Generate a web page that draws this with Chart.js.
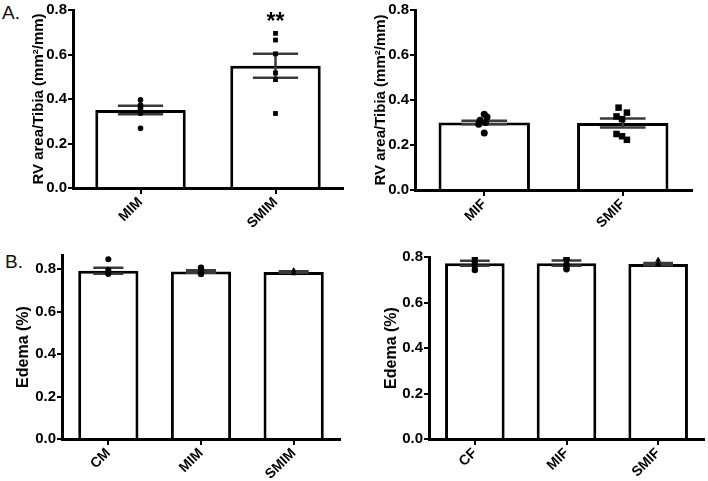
<!DOCTYPE html>
<html><head><meta charset="utf-8">
<script src="https://cdn.jsdelivr.net/npm/chart.js@4"></script>
<style>
html,body{margin:0;padding:0;background:#fff;width:708px;height:481px;overflow:hidden}
canvas{position:absolute}
.lbl{position:absolute;font-family:"Liberation Sans",Arial,sans-serif;font-size:19px;color:#111;line-height:19px}
</style></head><body>
<div class="lbl" style="left:2px;top:3px">A.</div>
<div class="lbl" style="left:5px;top:252px">B.</div>
<canvas id="c1" width="354" height="240" style="left:0;top:0"></canvas>
<canvas id="c2" width="354" height="240" style="left:354px;top:0"></canvas>
<canvas id="c3" width="354" height="241" style="left:0;top:240px"></canvas>
<canvas id="c4" width="354" height="241" style="left:354px;top:240px"></canvas>
<script>
// ---- Panel A (left): RV area / Tibia, male ----
const catsA1 = ['MIM', 'SMIM'];
const meanA1 = [0.351, 0.549];
const semA1  = [0.019, 0.054];
const ptsA1  = [[0.396, 0.373, 0.362, 0.352, 0.336, 0.268],
                [0.695, 0.665, 0.603, 0.517, 0.487, 0.335]];
const jitA1  = [[0, 0, 0, 0, 0, 0], [0, 0, 0, 0, 0, 0]];
const sigA1  = ['', '**'];

// ---- Panel A (right): RV area / Tibia, female ----
const catsA2 = ['MIF', 'SMIF'];
const meanA2 = [0.300, 0.298];
const semA2  = [0.008, 0.020];
const ptsA2  = [[0.337, 0.325, 0.310, 0.300, 0.292, 0.253],
                [0.366, 0.344, 0.327, 0.315, 0.249, 0.239, 0.223]];
const jitA2  = [[0, 0.02, -0.03, 0.01, -0.04, 0],
                [-0.03, 0.03, -0.045, -0.005, -0.045, -0.005, 0.03]];

// ---- Panel B (left): Edema, male ----
const catsB1 = ['CM', 'MIM', 'SMIM'];
const meanB1 = [0.792, 0.788, 0.786];
const semB1  = [0.014, 0.006, 0.003];
const ptsB1  = [[0.846, 0.795, 0.787, 0.776],
                [0.806, 0.795, 0.784, 0.777],
                [0.795, 0.783, 0.778]];

// ---- Panel B (right): Edema, female ----
const catsB2 = ['CF', 'MIF', 'SMIF'];
const meanB2 = [0.773, 0.773, 0.769];
const semB2  = [0.011, 0.012, 0.005];
const ptsB2  = [[0.797, 0.779, 0.762, 0.743],
                [0.806, 0.790, 0.765, 0.747],
                [0.787, 0.772, 0.765]];

const yTicksA = [0, 0.2, 0.4, 0.6, 0.8];
const yTicksB = [0, 0.2, 0.4, 0.6, 0.8];

const FONT = 'Arial, "Liberation Sans", Helvetica, sans-serif';

function makeChart(id, o) {
  const n = o.cats.length;
  const errPlugin = {
    id: 'errbars',
    afterDatasetDraw(chart, args) {
      if (args.index !== 0) return;
      const ctx = chart.ctx, x = chart.scales.x, y = chart.scales.y;
      const meta = chart.getDatasetMeta(0);
      ctx.save();
      ctx.strokeStyle = '#3a3a3a';
      ctx.lineWidth = 2.5;
      o.mean.forEach((m, i) => {
        const bar = meta.data[i];
        const cx = x.getPixelForValue(i), hw = bar.width * 0.25;
        const yt = y.getPixelForValue(m + o.sem[i]);
        const yb = y.getPixelForValue(m - o.sem[i]);
        ctx.beginPath();
        ctx.moveTo(cx, yt); ctx.lineTo(cx, yb);
        ctx.moveTo(cx - hw, yt); ctx.lineTo(cx + hw, yt);
        ctx.moveTo(cx - hw, yb); ctx.lineTo(cx + hw, yb);
        ctx.stroke();
      });
      ctx.restore();
    },
    afterDraw(chart) {
      if (!o.sig) return;
      const ctx = chart.ctx, x = chart.scales.x;
      ctx.save();
      ctx.fillStyle = '#000';
      ctx.font = 'bold 23px ' + FONT;
      ctx.textAlign = 'center';
      ctx.textBaseline = 'alphabetic';
      o.sig.forEach((s, i) => {
        if (!s) return;
        ctx.fillText(s, x.getPixelForValue(i), chart.chartArea.top + 19);
      });
      ctx.restore();
    }
  };
  const datasets = [{
    type: 'bar',
    data: o.mean,
    backgroundColor: '#ffffff',
    borderColor: '#000000',
    borderWidth: 3,
    grouped: false,
    barPercentage: o.barPct,
    categoryPercentage: 1,
    order: 2
  }];
  o.pts.forEach((arr, i) => {
    datasets.push({
      type: 'scatter',
      xAxisID: 'x2',
      yAxisID: 'y',
      data: arr.map((v, k) => ({ x: i + (o.jit ? o.jit[i][k] : 0), y: v })),
      pointStyle: o.styles[i],
      pointRadius: o.radii[i],
      backgroundColor: '#000',
      borderColor: '#000',
      borderWidth: 0,
      order: 1
    });
  });
  return new Chart(document.getElementById(id), {
    type: 'bar',
    data: { labels: o.cats, datasets },
    plugins: [errPlugin],
    options: {
      responsive: false,
      animation: false,
      events: [],
      layout: { padding: o.pad },
      plugins: { legend: { display: false }, tooltip: { enabled: false } },
      scales: {
        x: {
          type: 'category',
          offset: true,
          grid: { display: true, drawOnChartArea: false, offset: false, color: '#000', lineWidth: 2, tickLength: 6 },
          border: { display: true, color: '#000', width: 3 },
          ticks: { color: '#000', font: { family: FONT, size: 14, weight: 'bold' }, minRotation: 45, maxRotation: 45, autoSkip: false, padding: 0 },
          afterFit: s => { s.height = o.xh; }
        },
        x2: { type: 'linear', display: false, min: -0.5, max: n - 0.5, offset: false },
        y: {
          min: 0, max: o.ymax,
          grid: { display: true, drawOnChartArea: false, color: '#000', lineWidth: 2, tickLength: 5 },
          border: { display: true, color: '#000', width: 3 },
          afterBuildTicks: s => { s.ticks = o.yticks.map(v => ({ value: v })); },
          ticks: { color: '#000', font: { family: FONT, size: 15, weight: 'bold' }, padding: 1, callback: v => Number(v).toFixed(1) },
          title: { display: true, text: o.ytitle, color: '#000', font: { family: FONT, size: o.tsize, weight: 'bold' } },
          afterFit: s => { s.width = o.yw; }
        }
      }
    }
  });
}

makeChart('c1', { cats: catsA1, mean: meanA1, sem: semA1, pts: ptsA1, jit: jitA1, sig: sigA1,
  styles: ['circle', 'rect'], radii: [2.8, 3.4], barPct: 0.67, ymax: 0.8, yticks: yTicksA, tsize: 15,
  ytitle: 'RV area/Tibia (mm²/mm)', pad: { left: 26, right: 11, top: 8, bottom: 0 }, yw: 47, xh: 52 });

makeChart('c2', { cats: catsA2, mean: meanA2, sem: semA2, pts: ptsA2, jit: jitA2,
  styles: ['circle', 'rect'], radii: [3.5, 4.6], barPct: 0.66, ymax: 0.8, yticks: yTicksA, tsize: 15,
  ytitle: 'RV area/Tibia (mm²/mm)', pad: { left: 14, right: 16, top: 8, bottom: 0 }, yw: 47, xh: 50 });

makeChart('c3', { cats: catsB1, mean: meanB1, sem: semB1, pts: ptsB1,
  styles: ['circle', 'circle', 'triangle'], radii: [3, 3.2, 3], barPct: 0.65, ymax: 0.866, yticks: yTicksB, tsize: 16,
  ytitle: 'Edema (%)', pad: { left: 10, right: 14, top: 15, bottom: 0 }, yw: 52, xh: 42 });

makeChart('c4', { cats: catsB2, mean: meanB2, sem: semB2, pts: ptsB2,
  styles: ['circle', 'circle', 'triangle'], radii: [3.2, 3.4, 3.4], barPct: 0.65, ymax: 0.8, yticks: yTicksB, tsize: 16,
  ytitle: 'Edema (%)', pad: { left: 24, right: 1, top: 17, bottom: 0 }, yw: 51, xh: 42 });
</script>
</body></html>
